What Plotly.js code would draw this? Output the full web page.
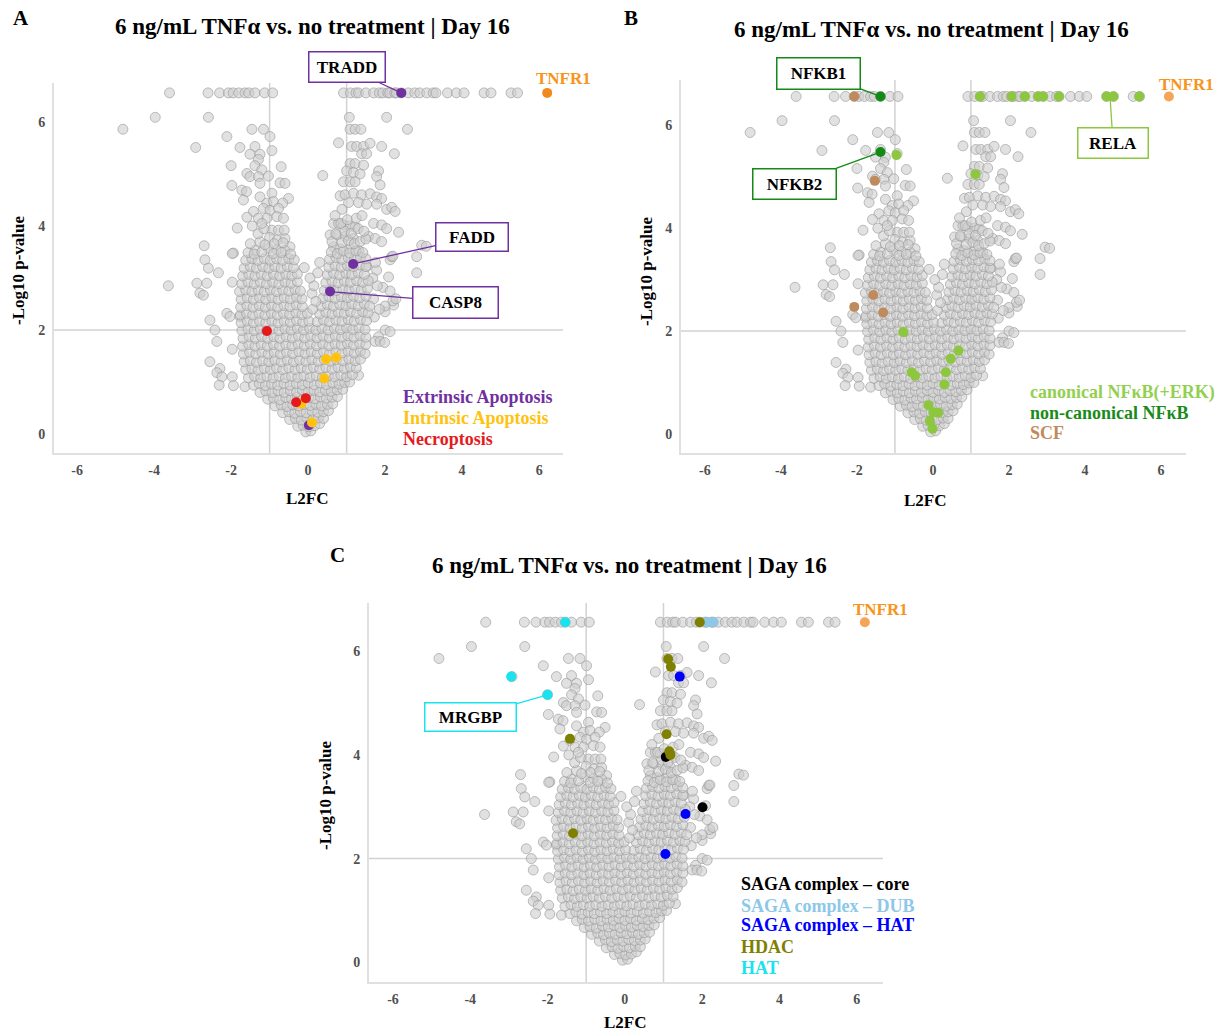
<!DOCTYPE html>
<html><head><meta charset="utf-8">
<script src="https://cdn.plot.ly/plotly-3.0.1.min.js"></script>
<style>html,body{margin:0;padding:0;background:#fff}#chart{width:1224px;height:1034px}</style>
</head><body><div id="chart"></div>
<script>
const W = 1224, H = 1034;

// ---------- DATA ----------
const titleText = '6 ng/mL TNFα vs. no treatment | Day 16';
const xTickVals = [-6, -4, -2, 0, 2, 4, 6];
const xTickText = ['-6', '-4', '-2', '0', '2', '4', '6'];
const yTickVals = [0, 2, 4, 6];
const yTickText = ['0', '2', '4', '6'];
const saturatedLogP = 6.56;

// saturated row (-log10 p at ceiling)
const topRowLeftX = [-3.6, -2.6, -2.3, -2.07, -1.95, -1.8, -1.64, -1.54, -1.38, -1.13, -0.92];
const topRowRightX = [0.92, 1.1, 1.24, 1.31, 1.5, 1.7, 1.85, 1.94, 2.07, 2.12, 2.25, 2.29, 2.42, 2.6, 2.77, 2.9, 3.08, 3.25, 3.32, 3.62, 3.85, 4.05, 4.57, 4.75, 5.27, 5.44];

// sparse upper points [L2FC, -log10 p]
const bgUpperLeft = [[-3.97,6.09],[-2.59,6.09],[-4.81,5.86],[-2.92,5.51],[-2.11,5.72],[-1.46,5.86],[-1.16,5.86],[-0.99,5.72],[-1.77,5.51],[-1.38,5.53],[-1.51,5.38],[-1.25,5.38],[-0.94,5.45],[-1.29,5.28],[-1.38,5.16],[-2.0,5.16],[-0.7,5.14],[-1.2,5.08],[-1.59,5.01],[-1.51,4.95],[-1.29,4.95],[-1.03,4.96],[-1.98,4.78],[-1.25,4.82],[-0.73,4.83],[-0.6,4.82],[-1.72,4.69],[-1.6,4.66],[-1.68,4.5],[-1.25,4.56],[-0.94,4.63],[-0.51,4.53],[-1.07,4.44],[-0.9,4.47],[-0.66,4.44],[-1.42,4.28],[-1.16,4.34],[-0.99,4.3],[-0.77,4.34],[-1.59,4.17],[-1.29,4.15],[-1.07,4.15],[-0.81,4.18],[-0.64,4.15],[-1.84,3.96],[-0.94,3.92],[-0.77,3.92],[-1.0,3.78],[-0.8,3.73],[-0.6,3.76],[-0.47,3.6],[-2.7,3.62],[-1.94,3.48],[-1.38,3.53],[-1.03,3.57],[-0.81,3.54],[-0.6,3.53]];
const bgUpperRight = [[1.07,6.09],[2.04,6.09],[1.09,5.86],[1.22,5.86],[1.37,5.86],[2.58,5.86],[0.79,5.6],[1.13,5.53],[1.26,5.53],[1.44,5.53],[1.61,5.59],[1.91,5.53],[1.39,5.39],[1.52,5.39],[2.24,5.39],[1.09,5.2],[1.22,5.2],[1.44,5.17],[0.38,4.97],[1.0,5.06],[1.18,5.03],[1.35,5.0],[1.83,5.06],[0.92,4.85],[1.09,4.85],[1.22,4.85],[1.78,4.95],[1.87,4.79],[0.83,4.58],[0.96,4.6],[1.18,4.63],[1.39,4.6],[1.61,4.62],[1.78,4.56],[1.91,4.53],[0.88,4.32],[1.05,4.45],[1.31,4.45],[1.52,4.42],[1.78,4.42],[2.04,4.32],[2.17,4.36],[2.26,4.28],[0.66,4.05],[0.79,4.05],[0.92,4.02],[1.09,4.0],[1.22,3.98],[1.7,4.05],[1.91,4.02],[2.04,3.95],[2.35,3.88],[0.57,3.83],[0.75,3.83],[0.96,3.8],[1.18,3.76],[1.57,3.8],[1.74,3.76],[1.91,3.7],[2.95,3.63],[0.66,3.6],[0.83,3.56],[1.09,3.56],[1.31,3.53]];
const bgOutliers = [[-3.63,2.85],[-2.89,2.9],[-2.63,2.9],[-2.81,2.71],[-2.72,2.67],[-2.68,3.35],[-2.59,3.19],[-2.33,3.1],[-1.97,3.47],[-1.97,2.92],[-2.11,2.32],[-2.03,2.26],[-2.55,2.19],[-2.42,2.0],[-2.37,1.78],[-1.97,1.63],[-2.55,1.39],[-2.29,1.26],[-2.37,1.18],[-2.24,1.1],[-2.31,0.94],[-1.97,1.1],[-1.94,0.93],[-1.64,0.91],[-1.77,2.26],
[2.82,3.41],[2.82,3.1],[2.13,3.35],[2.17,3.41],[1.52,3.22],[1.78,3.15],[2.09,3.02],[2.22,2.48],[2.0,2.35],[2.0,2.0],[2.13,1.97],[1.83,1.87],[1.74,1.78],[1.87,1.78],[1.31,1.13],[3.07,3.61],[2.2,3.42],[1.94,2.82],[2.2,2.56],[2.0,2.46],[1.99,1.76],[2.13,2.75],[2.28,2.6],[1.72,2.25],[1.85,2.4],[1.7,2.6],[1.8,2.85],[1.68,3.0],[1.75,3.3]];
const bgCore = [
[-0.06,0.04],[0.07,0.06],
[-0.27,0.15],[-0.13,0.17],[0.02,0.14],[0.17,0.16],[0.3,0.2],
[-0.48,0.28],[-0.33,0.3],[-0.18,0.27],[-0.03,0.3],[0.12,0.28],[0.27,0.31],[0.4,0.3],
[-0.66,0.41],[-0.5,0.43],[-0.35,0.4],[-0.2,0.43],[-0.05,0.41],[0.1,0.44],[0.25,0.42],[0.4,0.43],[0.53,0.45],
[-0.86,0.54],[-0.7,0.56],[-0.55,0.53],[-0.4,0.56],[-0.25,0.54],[-0.1,0.57],[0.05,0.55],[0.2,0.57],[0.35,0.54],[0.5,0.57],[0.64,0.58],
[-1.05,0.67],[-0.9,0.69],[-0.74,0.66],[-0.58,0.7],[-0.43,0.68],[-0.28,0.71],[-0.13,0.67],[0.02,0.7],[0.17,0.68],[0.32,0.71],[0.47,0.69],[0.62,0.71],[0.76,0.72],
[-1.25,0.8],[-1.1,0.83],[-0.94,0.8],[-0.78,0.83],[-0.62,0.8],[-0.46,0.83],[-0.3,0.81],[-0.15,0.84],[0.0,0.81],[0.15,0.84],[0.3,0.81],[0.45,0.84],[0.6,0.82],[0.75,0.85],[0.9,0.86],
[-1.42,0.94],[-1.27,0.97],[-1.11,0.93],[-0.95,0.96],[-0.79,0.94],[-0.63,0.97],[-0.47,0.94],[-0.31,0.97],[-0.15,0.95],[0.0,0.98],[0.16,0.95],[0.32,0.98],[0.48,0.95],[0.64,0.98],[0.8,0.96],[0.95,0.99],[1.08,1.0],
[-1.55,1.08],[-1.39,1.11],[-1.23,1.08],[-1.07,1.11],[-0.91,1.08],[-0.75,1.11],[-0.59,1.08],[-0.43,1.11],[-0.27,1.09],[-0.11,1.12],[0.05,1.09],[0.21,1.12],[0.37,1.09],[0.53,1.12],[0.69,1.1],[0.85,1.13],[1.0,1.1],[1.15,1.14],
[-1.62,1.24],[-1.46,1.26],[-1.3,1.23],[-1.14,1.26],[-0.98,1.24],[-0.82,1.27],[-0.66,1.24],[-0.5,1.27],[-0.34,1.24],[-0.18,1.27],[-0.02,1.25],[0.14,1.28],[0.3,1.25],[0.46,1.28],[0.62,1.25],[0.78,1.28],[0.94,1.26],[1.1,1.29],[1.25,1.27],
[-1.66,1.39],[-1.5,1.41],[-1.34,1.38],[-1.18,1.41],[-1.02,1.39],[-0.86,1.42],[-0.7,1.39],[-0.54,1.42],[-0.38,1.39],[-0.22,1.42],[-0.06,1.4],[0.1,1.43],[0.26,1.4],[0.42,1.43],[0.58,1.4],[0.74,1.43],[0.9,1.41],[1.06,1.44],[1.22,1.41],[1.36,1.44],
[-1.68,1.54],[-1.52,1.57],[-1.36,1.54],[-1.2,1.57],[-1.04,1.54],[-0.88,1.57],[-0.72,1.54],[-0.56,1.57],[-0.4,1.55],[-0.24,1.58],[-0.08,1.55],[0.08,1.58],[0.24,1.55],[0.4,1.58],[0.56,1.55],[0.72,1.58],[0.88,1.56],[1.04,1.59],[1.2,1.56],[1.36,1.59],[1.48,1.55],
[-1.7,1.69],[-1.54,1.72],[-1.38,1.69],[-1.22,1.72],[-1.06,1.69],[-0.9,1.72],[-0.74,1.69],[-0.58,1.72],[-0.42,1.7],[-0.26,1.73],[-0.1,1.7],[0.06,1.73],[0.22,1.7],[0.38,1.73],[0.54,1.7],[0.7,1.73],[0.86,1.71],[1.02,1.74],[1.18,1.71],[1.34,1.74],[1.5,1.72],
[-1.69,1.84],[-1.53,1.87],[-1.37,1.84],[-1.21,1.87],[-1.05,1.84],[-0.89,1.87],[-0.73,1.84],[-0.57,1.87],[-0.41,1.85],[-0.25,1.88],[-0.09,1.85],[0.07,1.88],[0.23,1.85],[0.39,1.88],[0.55,1.85],[0.71,1.88],[0.87,1.86],[1.03,1.89],[1.19,1.86],[1.35,1.89],[1.5,1.86],
[-1.72,1.99],[-1.56,2.02],[-1.4,1.99],[-1.24,2.02],[-1.08,1.99],[-0.92,2.02],[-0.76,1.99],[-0.6,2.02],[-0.44,2.0],[-0.28,2.03],[-0.12,2.0],[0.04,2.03],[0.2,2.0],[0.36,2.03],[0.52,2.0],[0.68,2.03],[0.84,2.01],[1.0,2.04],[1.16,2.01],[1.32,2.04],[1.48,2.01],
[-1.74,2.14],[-1.58,2.17],[-1.42,2.14],[-1.26,2.17],[-1.1,2.14],[-0.94,2.17],[-0.78,2.14],[-0.62,2.17],[-0.46,2.15],[-0.3,2.18],[-0.14,2.15],[0.02,2.17],[0.24,2.16],[0.4,2.19],[0.56,2.16],[0.72,2.19],[0.88,2.17],[1.04,2.2],[1.2,2.17],[1.36,2.2],[1.52,2.18],
[-1.76,2.29],[-1.6,2.32],[-1.44,2.29],[-1.28,2.32],[-1.12,2.29],[-0.96,2.32],[-0.8,2.29],[-0.64,2.32],[-0.48,2.3],[-0.32,2.33],[-0.16,2.3],[-0.02,2.32],[0.3,2.31],[0.46,2.34],[0.62,2.31],[0.78,2.34],[0.94,2.32],[1.1,2.35],[1.26,2.32],[1.42,2.35],[1.56,2.33],
[-1.75,2.44],[-1.59,2.47],[-1.43,2.44],[-1.27,2.47],[-1.11,2.44],[-0.95,2.47],[-0.79,2.44],[-0.63,2.47],[-0.47,2.45],[-0.31,2.48],[-0.15,2.45],[0.34,2.46],[0.5,2.49],[0.66,2.46],[0.82,2.49],[0.98,2.47],[1.14,2.5],[1.3,2.47],[1.46,2.5],[1.6,2.46],
[-1.74,2.59],[-1.58,2.62],[-1.42,2.59],[-1.26,2.62],[-1.1,2.59],[-0.94,2.62],[-0.78,2.59],[-0.62,2.62],[-0.46,2.6],[-0.3,2.63],[-0.16,2.6],[0.38,2.61],[0.54,2.64],[0.7,2.61],[0.86,2.64],[1.02,2.62],[1.18,2.65],[1.34,2.62],[1.5,2.65],
[-1.78,2.74],[-1.62,2.77],[-1.46,2.74],[-1.3,2.77],[-1.14,2.74],[-0.98,2.77],[-0.82,2.74],[-0.66,2.77],[-0.5,2.75],[-0.34,2.78],[-0.2,2.75],[0.42,2.76],[0.58,2.79],[0.74,2.76],[0.9,2.79],[1.06,2.77],[1.22,2.8],[1.38,2.77],[1.54,2.8],
[-1.72,2.89],[-1.56,2.92],[-1.4,2.89],[-1.24,2.92],[-1.08,2.89],[-0.92,2.92],[-0.76,2.89],[-0.6,2.92],[-0.44,2.9],[-0.28,2.93],[0.46,2.91],[0.62,2.94],[0.78,2.91],[0.94,2.94],[1.1,2.92],[1.26,2.95],[1.42,2.92],[1.56,2.95],
[-1.7,3.04],[-1.54,3.07],[-1.38,3.04],[-1.22,3.07],[-1.06,3.04],[-0.9,3.07],[-0.74,3.04],[-0.58,3.07],[-0.42,3.05],[-0.28,3.08],[0.5,3.06],[0.66,3.09],[0.82,3.06],[0.98,3.09],[1.14,3.07],[1.3,3.1],[1.46,3.07],
[-1.66,3.19],[-1.5,3.22],[-1.34,3.19],[-1.18,3.22],[-1.02,3.19],[-0.86,3.22],[-0.7,3.19],[-0.54,3.22],[-0.38,3.2],[0.54,3.21],[0.7,3.24],[0.86,3.21],[1.02,3.24],[1.18,3.22],[1.34,3.25],[1.5,3.22],
[-1.62,3.34],[-1.46,3.37],[-1.3,3.34],[-1.14,3.37],[-0.98,3.34],[-0.82,3.37],[-0.66,3.34],[-0.5,3.37],[-0.36,3.35],[0.56,3.36],[0.72,3.39],[0.88,3.36],[1.04,3.39],[1.2,3.37],[1.36,3.4],[1.5,3.37],
[-1.56,3.49],[-1.4,3.46],[-1.2,3.5],[-0.9,3.47],[-0.7,3.49],[-0.45,3.46],[0.6,3.5],[0.76,3.47],[0.92,3.52],[1.08,3.48],[1.24,3.52],[1.42,3.49],
[-1.5,3.66],[-1.25,3.7],[-1.12,3.64],[-0.88,3.66],[-0.65,3.68],[-1.3,3.85],[-1.15,3.95],[-0.62,3.92],[-1.45,4.0],[-1.2,4.05],
[0.62,3.7],[0.88,3.68],[1.05,3.72],[1.2,3.66],[1.35,3.7],[1.5,3.75],[0.72,3.85],[0.95,3.9],[1.12,3.86],[1.3,3.95],[1.45,3.9],[0.85,4.05],[1.02,4.12],[1.25,4.15],[1.4,4.2],[0.7,4.2],
[0.12,2.4],[0.1,2.7],[0.2,2.55],[0.15,2.85],[0.05,3.0],[0.25,3.1],[-0.1,3.2],[0.3,3.3]
];

// TNFR1
const tnfr1X = [6.21], tnfr1Y = [6.56];

// Panel A categories
const extrinsicX = [2.42, 1.17, 0.57, 0.02], extrinsicY = [6.56, 3.27, 2.74, 0.17];
const intrinsicX = [0.47, 0.73, 0.42, -0.18, 0.1], intrinsicY = [1.44, 1.47, 1.07, 0.58, 0.22];
const necroX = [-1.07, -0.31, -0.06], necroY = [1.98, 0.61, 0.69];

// Panel B categories
const canonicalX = [-0.96, 1.12, 1.24, 2.07, 2.42, 2.77, 2.9, 3.32, 4.57, 4.75, 5.43, -0.78, -0.56, -0.47, 0.67, 0.47, 0.34, 0.3, -0.12, 0.01, 0.14, -0.08, -0.01];
const canonicalY = [5.42, 5.05, 6.56, 6.56, 6.56, 6.56, 6.56, 6.56, 6.56, 6.56, 6.56, 1.98, 1.2, 1.13, 1.62, 1.46, 1.2, 0.96, 0.56, 0.42, 0.41, 0.25, 0.1];
const nonCanonicalX = [-1.38, -1.38], nonCanonicalY = [6.56, 5.48];
const scfX = [-2.07, -1.53, -2.07, -1.57, -1.31], scfY = [6.56, 4.92, 2.47, 2.7, 2.36];

// Panel C categories
const sagaCoreX = [1.06, 2.01], sagaCoreY = [3.96, 2.99];
const sagaDubX = [2.12, 2.29], sagaDubY = [6.56, 6.56];
const sagaHatX = [1.42, 1.57, 1.05], sagaHatY = [5.51, 2.86, 2.09];
const hdacX = [1.94, 1.12, 1.19, 1.08, 1.15, 1.18, -1.42, -1.34], hdacY = [6.56, 5.85, 5.7, 4.4, 4.07, 4.0, 4.31, 2.49];
const hatX = [-1.54, -2.94, -2.0], hatY = [6.56, 5.51, 5.16];

// ---------- BUILD ----------
const SERIF = 'Liberation Serif, Times New Roman, serif';
const bgPairs = [].concat(
  topRowLeftX.map(x => [x, saturatedLogP]),
  topRowRightX.map(x => [x, saturatedLogP]),
  bgUpperLeft, bgUpperRight, bgOutliers, bgCore);
const bgX = bgPairs.map(p => p[0]), bgY = bgPairs.map(p => p[1]);

function bgTrace(xa, ya) {
  return {type: 'scatter', mode: 'markers', x: bgX, y: bgY, xaxis: xa, yaxis: ya, hoverinfo: 'skip',
    marker: {size: 10, color: 'rgba(205,205,205,0.6)', line: {color: 'rgba(150,150,150,0.6)', width: 1}}};
}
function ptTrace(x, y, color, xa, ya) {
  return {type: 'scatter', mode: 'markers', x: x, y: y, xaxis: xa, yaxis: ya, hoverinfo: 'skip',
    marker: {size: 10, color: color, line: {width: 0}}};
}
const C = {
  purple: '#7030A0', yellow: '#FFC20E', red: '#E41A1C', orangeA: '#F08A1C', orangeBC: '#F4A558', orangeText: '#F7941D',
  lgreen: '#8DC63F', dgreen: '#128A14', brown: '#C08B5C', black: '#000000', dub: '#8CC8E8', blue: '#0000FF', olive: '#808000', cyan: '#19E3EE'
};

const data = [
  bgTrace('x', 'y'),
  ptTrace(extrinsicX, extrinsicY, C.purple, 'x', 'y'),
  ptTrace(intrinsicX, intrinsicY, C.yellow, 'x', 'y'),
  ptTrace(necroX, necroY, C.red, 'x', 'y'),
  ptTrace(tnfr1X, tnfr1Y, C.orangeA, 'x', 'y'),
  bgTrace('x2', 'y2'),
  ptTrace(canonicalX, canonicalY, C.lgreen, 'x2', 'y2'),
  ptTrace(nonCanonicalX, nonCanonicalY, C.dgreen, 'x2', 'y2'),
  ptTrace(scfX, scfY, C.brown, 'x2', 'y2'),
  ptTrace(tnfr1X, tnfr1Y, C.orangeBC, 'x2', 'y2'),
  bgTrace('x3', 'y3'),
  ptTrace(sagaCoreX, sagaCoreY, C.black, 'x3', 'y3'),
  ptTrace(sagaDubX, sagaDubY, C.dub, 'x3', 'y3'),
  ptTrace(sagaHatX, sagaHatY, C.blue, 'x3', 'y3'),
  ptTrace(hdacX, hdacY, C.olive, 'x3', 'y3'),
  ptTrace(hatX, hatY, C.cyan, 'x3', 'y3'),
  ptTrace(tnfr1X, tnfr1Y, C.orangeBC, 'x3', 'y3')
];

function xAxis(domainPx, range, anchor) {
  return {domain: [domainPx[0] / W, domainPx[1] / W], range: range, anchor: anchor,
    showgrid: false, zeroline: false, showline: true, linecolor: '#e0e0e0', linewidth: 2,
    tickvals: xTickVals, ticktext: xTickText, ticks: 'outside', ticklen: 3, tickcolor: 'rgba(0,0,0,0)',
    tickfont: {family: SERIF, size: 14, color: '#505050', weight: 'bold'}, fixedrange: true};
}
function yAxis(domainPy, range, anchor) {
  return {domain: [1 - domainPy[1] / H, 1 - domainPy[0] / H], range: range, anchor: anchor,
    showgrid: false, zeroline: false, showline: true, linecolor: '#e0e0e0', linewidth: 2,
    tickvals: yTickVals, ticktext: yTickText, ticks: 'outside', ticklen: 4, tickcolor: 'rgba(0,0,0,0)',
    tickfont: {family: SERIF, size: 14, color: '#505050', weight: 'bold'}, fixedrange: true};
}

function thresholds(xr, yr) {
  const ln = {color: '#d2d2d2', width: 1.5};
  return [
    {type: 'line', xref: xr, yref: yr + ' domain', x0: -1, x1: -1, y0: 0, y1: 1, line: ln, layer: 'below'},
    {type: 'line', xref: xr, yref: yr + ' domain', x0: 1, x1: 1, y0: 0, y1: 1, line: ln, layer: 'below'},
    {type: 'line', xref: xr + ' domain', yref: yr, x0: 0, x1: 1, y0: 2, y1: 2, line: ln, layer: 'below'}
  ];
}

function txt(x, y, text, size, color, opts) {
  return Object.assign({xref: 'paper', yref: 'paper', x: x / W, y: 1 - y / H, text: text, showarrow: false,
    xanchor: 'center', yanchor: 'middle', font: {family: SERIF, size: size, color: color, weight: 'bold'}}, opts || {});
}
function label(xr, yr, x, y, text, color, ax, ay, w, h) {
  return {xref: xr, yref: yr, x: x, y: y, text: text, showarrow: true, arrowhead: 0, arrowwidth: 1.3,
    arrowcolor: color, ax: ax, ay: ay, bordercolor: color, borderwidth: 1.5, borderpad: 1, bgcolor: '#ffffff',
    width: w - 4, height: h - 4, align: 'center', valign: 'middle',
    font: {family: SERIF, size: 17, color: '#000', weight: 'bold'}};
}

const LEG = 18;
const annotations = [
  txt(21, 18, 'A', 21, '#000'), txt(631, 18, 'B', 21, '#000'), txt(337, 555, 'C', 21, '#000'),
  txt(312, 27, titleText, 23, '#000'), txt(931, 29, titleText, 23, '#000'), txt(630, 565, titleText, 23, '#000'),
  txt(307, 498, 'L2FC', 17, '#000'), txt(925, 500, 'L2FC', 17, '#000'), txt(625, 1022, 'L2FC', 17, '#000'),
  txt(19, 270, '-Log10 p-value', 17, '#000', {textangle: -90}),
  txt(646, 271, '-Log10 p-value', 17, '#000', {textangle: -90}),
  txt(325, 795, '-Log10 p-value', 17, '#000', {textangle: -90}),
  txt(563, 78, 'TNFR1', 17, C.orangeText), txt(1186, 84, 'TNFR1', 17, C.orangeText), txt(880, 609, 'TNFR1', 17, C.orangeText),
  txt(401, 397, 'Extrinsic Apoptosis', LEG, C.purple, {xanchor: 'left'}),
  txt(401, 418, 'Intrinsic Apoptosis', LEG, C.yellow, {xanchor: 'left'}),
  txt(401, 439, 'Necroptosis', LEG, C.red, {xanchor: 'left'}),
  txt(1028, 392, 'canonical NFκB(+ERK)', LEG, '#92D050', {xanchor: 'left'}),
  txt(1028, 413, 'non-canonical NFκB', LEG, '#1A8A1A', {xanchor: 'left'}),
  txt(1028, 433, 'SCF', LEG, C.brown, {xanchor: 'left'}),
  txt(739, 884, 'SAGA complex – core', LEG, C.black, {xanchor: 'left'}),
  txt(739, 906, 'SAGA complex – DUB', LEG, C.dub, {xanchor: 'left'}),
  txt(739, 925, 'SAGA complex – HAT', LEG, C.blue, {xanchor: 'left'}),
  txt(739, 947, 'HDAC', LEG, C.olive, {xanchor: 'left'}),
  txt(739, 968, 'HAT', LEG, C.cyan, {xanchor: 'left'}),
  label('x', 'y', extrinsicX[0], extrinsicY[0], 'TRADD', C.purple, -54.7, -25.4, 77, 31),
  label('x', 'y', extrinsicX[1], extrinsicY[1], 'FADD', C.purple, 118.5, -26.5, 73, 29),
  label('x', 'y', extrinsicX[2], extrinsicY[2], 'CASP8', C.purple, 125.6, 10.5, 86, 32),
  label('x2', 'y2', nonCanonicalX[0], nonCanonicalY[0], 'NFKB1', C.dgreen, -61.9, -23.2, 84, 32),
  label('x2', 'y2', nonCanonicalX[1], nonCanonicalY[1], 'NFKB2', C.dgreen, -85.9, 31.6, 84, 31),
  label('x2', 'y2', 4.66, saturatedLogP, 'RELA', C.lgreen, 3.1, 46.8, 71, 31),
  label('x3', 'y3', hatX[2], hatY[2], 'MRGBP', C.cyan, -77.3, 22.1, 92, 29)
];

const layout = {
  width: W, height: H, margin: {l: 0, r: 0, t: 0, b: 0}, paper_bgcolor: '#fff', plot_bgcolor: '#fff',
  showlegend: false, hovermode: false,
  xaxis: xAxis([54, 563], [-6.6, 6.62], 'y'),
  yaxis: yAxis([83, 453], [-0.365, 6.75], 'x'),
  xaxis2: xAxis([681, 1186], [-6.63, 6.66], 'y2'),
  yaxis2: yAxis([80, 453], [-0.37, 6.88], 'x2'),
  xaxis3: xAxis([369, 883], [-6.62, 6.68], 'y3'),
  yaxis3: yAxis([603, 982], [-0.38, 6.93], 'x3'),
  shapes: [].concat(thresholds('x', 'y'), thresholds('x2', 'y2'), thresholds('x3', 'y3')),
  annotations: annotations
};

Plotly.newPlot('chart', data, layout, {displayModeBar: false, staticPlot: true});
</script></body></html>
